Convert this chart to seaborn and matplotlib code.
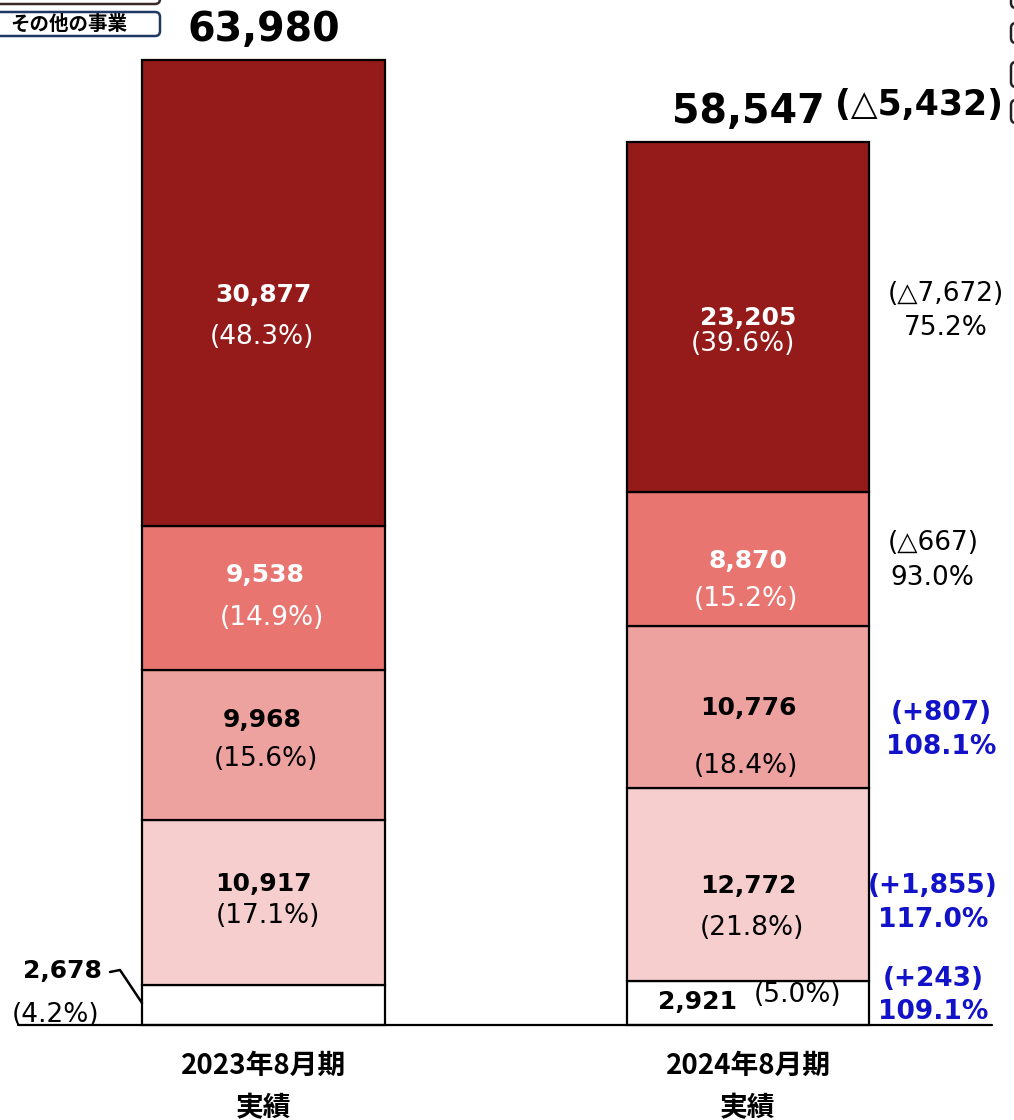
import numpy as np
import matplotlib
matplotlib.use("Agg")
import matplotlib.pyplot as plt
import seaborn as sns
from matplotlib.patches import FancyBboxPatch
from matplotlib.transforms import IdentityTransform

# --- data (bottom -> top) ---
periods = ["2023年8月期", "2024年8月期"]
vals_2023 = [2678, 10917, 9968, 9538, 30877]
vals_2024 = [2921, 12772, 10776, 8870, 23205]
shares_2023 = ["(4.2%)", "(17.1%)", "(15.6%)", "(14.9%)", "(48.3%)"]
shares_2024 = ["(5.0%)", "(21.8%)", "(18.4%)", "(15.2%)", "(39.6%)"]
totals = [63980, 58547]
total_diff = "(△5,432)"
diff_labels = ["(+243)", "(+1,855)", "(+807)", "(△667)", "(△7,672)"]
ratio_labels = ["109.1%", "117.0%", "108.1%", "93.0%", "75.2%"]
legend_label = "その他の事業"

colors = ["#FFFFFF", "#F6CECE", "#EEA2A0", "#E97571", "#951B1A"]
text_colors = ["black", "black", "black", "white", "white"]
BLUE = "#1212C8"

# layout (pixels)
W, H = 1014, 1120
X0, XS = 263.5, 484.5          # bar centre px, px per category
Y0, YS = 1025, 965 / 63980      # baseline px, px per unit

fig = plt.figure(figsize=(W / 100, H / 100), dpi=100)
sns.set_style("white")
plt.rcParams['font.family'] = ['DejaVu Sans', 'Noto Sans CJK JP']
plt.rcParams['text.color'] = 'black'
ax = fig.add_axes([0, 0, 1, 1])


def px2data(px, py):
    return (px - X0) / XS, (Y0 - py) / YS


bottoms = np.zeros(2)
for i, col in enumerate(colors):
    vals = np.array([vals_2023[i], vals_2024[i]])
    sns.barplot(x=periods, y=vals, bottom=bottoms.copy(), color=col, saturation=1,
                width=0.5, edgecolor="black", linewidth=1.6, errorbar=None, ax=ax)
    bottoms += vals

ax.set_xlim(px2data(0, 0)[0], px2data(W, 0)[0])
ax.set_ylim(px2data(0, H)[1], px2data(0, 0)[1])
ax.axis("off")

# baseline
bx0, _ = px2data(18, 0)
bx1, _ = px2data(992, 0)
ax.plot([bx0, bx1], [0, 0], color="black", lw=1.6, zorder=5)

# label offsets in pixels (dx, dy down)
num_off = [
    [(-201, -34), (0, -18), (-1, -25), (2, -23), (0, 2)],
    [(-50, -1), (0, 1), (0, 1), (0, 2), (0, 1)],
]
pct_off = [
    [(-208, 10), (4, 14), (2, 14), (8, 20), (-2, 44)],
    [(50, -8), (4, 43), (-2, 59), (-2, 40), (-5, 27)],
]
diff_off = [(185, -24), (185, 1), (193, 6), (185, -16), (198, -23)]
ratio_off = [(185, 9), (185, 35), (193, 40), (184, 19), (198, 11)]

for j, (vals, shares) in enumerate([(vals_2023, shares_2023), (vals_2024, shares_2024)]):
    cum = np.cumsum([0] + vals)
    for i, v in enumerate(vals):
        yc = cum[i] + v / 2
        tc = text_colors[i]
        dx, dy = num_off[j][i]
        ax.annotate(f"{v:,}", (j, yc), xytext=(dx, -dy), textcoords="offset pixels",
                    ha="center", va="center", fontsize=18, fontweight="bold", color=tc)
        dx, dy = pct_off[j][i]
        ax.annotate(shares[i], (j, yc), xytext=(dx, -dy), textcoords="offset pixels",
                    ha="center", va="center", fontsize=19, color=tc)
        if j == 1:
            blue = diff_labels[i].startswith("(+")
            kw = dict(fontsize=19, fontweight="bold", color=BLUE) if blue else dict(fontsize=19, color="black")
            dx, dy = diff_off[i]
            ax.annotate(diff_labels[i], (j, yc), xytext=(dx, -dy), textcoords="offset pixels",
                        ha="center", va="center", **kw)
            dx, dy = ratio_off[i]
            ax.annotate(ratio_labels[i], (j, yc), xytext=(dx, -dy), textcoords="offset pixels",
                        ha="center", va="center", **kw)

# totals
for j, t in enumerate(totals):
    ax.annotate(f"{t:,}", (j, t), xytext=(0, 30), textcoords="offset pixels",
                ha="center", va="center", fontsize=28.5, fontweight="bold", color="black")
ax.annotate(total_diff, (1, totals[1]), xytext=(171, 37), textcoords="offset pixels",
            ha="center", va="center", fontsize=25, fontweight="bold", color="black")

# leader line for the small 2023 segment
pts = [px2data(110, 972), px2data(120, 970), px2data(142, 1003)]
ax.plot([p[0] for p in pts], [p[1] for p in pts], color="black", lw=1.8)

# category labels
for j, p in enumerate(periods):
    ax.annotate(p, (j, 0), xytext=(0, -41), textcoords="offset pixels", ha="center", va="center",
                fontsize=20, fontweight="bold", color="black",
                family=["Noto Sans CJK JP", "DejaVu Sans"])
    ax.annotate("実績", (j, 0), xytext=(0, -83), textcoords="offset pixels", ha="center", va="center",
                fontsize=20, fontweight="bold", color="black",
                family=["Noto Sans CJK JP", "DejaVu Sans"])

# legend boxes (partly cut off at the edges)
def box(x, y, w, h, ec, fc="white"):
    p = FancyBboxPatch((x, H - y - h), w, h, boxstyle="round,pad=0,rounding_size=5",
                       transform=IdentityTransform(), ec=ec, fc=fc, lw=1.8)
    fig.add_artist(p)

box(-10, -22, 170, 26, "#3A2A2A")
box(-10, 12, 170, 24, "#1F3864")
fig.text(69 / W, 1 - 24 / H, legend_label, ha="center", va="center", fontsize=14,
         fontweight="bold", color="black", family=["Noto Sans CJK JP", "DejaVu Sans"])
for y, h in [(-20, 28), (23, 20), (62, 25), (100, 23)]:
    box(1011, y, 30, h, "#222222")

fig.savefig("out.png", dpi=100)
